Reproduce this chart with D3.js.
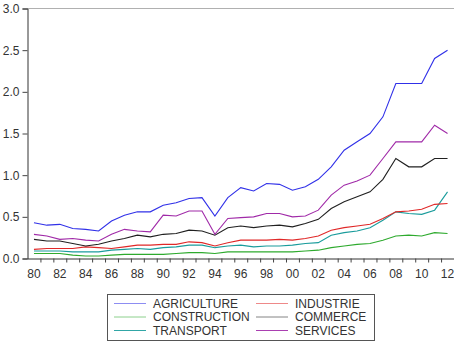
<!DOCTYPE html>
<html>
<head>
<meta charset="utf-8">
<script src="https://cdn.jsdelivr.net/npm/d3@7"></script>
<style>
  body { margin: 0; background: #fff; }
  svg { display: block; font-family: "Liberation Sans", Arial, sans-serif; }
</style>
</head>
<body>
<svg width="454" height="341"></svg>
<script>
// Years 1980..2012
const years = d3.range(1980, 2013);

const agriculture = [0.43, 0.40, 0.41, 0.36, 0.35, 0.33, 0.45, 0.52, 0.56, 0.56,
  0.64, 0.67, 0.72, 0.73, 0.51, 0.73, 0.85, 0.81, 0.90, 0.89,
  0.82, 0.86, 0.95, 1.10, 1.30, 1.40, 1.50, 1.70, 2.10, 2.10,
  2.10, 2.40, 2.50];
const industrie = [0.11, 0.12, 0.12, 0.12, 0.14, 0.13, 0.12, 0.14, 0.16, 0.16,
  0.17, 0.17, 0.20, 0.19, 0.15, 0.19, 0.22, 0.22, 0.22, 0.23,
  0.22, 0.24, 0.27, 0.34, 0.37, 0.39, 0.41, 0.48, 0.56, 0.57,
  0.59, 0.65, 0.66];
const construction = [0.06, 0.06, 0.06, 0.04, 0.03, 0.03, 0.04, 0.05, 0.05, 0.05,
  0.05, 0.06, 0.07, 0.07, 0.06, 0.08, 0.08, 0.08, 0.08, 0.08,
  0.08, 0.09, 0.10, 0.13, 0.15, 0.17, 0.18, 0.22, 0.27, 0.28,
  0.27, 0.31, 0.30];
const commerce = [0.23, 0.21, 0.21, 0.18, 0.15, 0.17, 0.21, 0.24, 0.28, 0.26,
  0.29, 0.30, 0.34, 0.33, 0.28, 0.37, 0.39, 0.37, 0.39, 0.40,
  0.38, 0.42, 0.47, 0.60, 0.68, 0.74, 0.80, 0.95, 1.20, 1.10,
  1.10, 1.20, 1.20];
const transport = [0.09, 0.09, 0.09, 0.08, 0.08, 0.08, 0.10, 0.11, 0.12, 0.11,
  0.13, 0.14, 0.16, 0.16, 0.13, 0.15, 0.16, 0.14, 0.15, 0.15,
  0.16, 0.18, 0.19, 0.28, 0.31, 0.33, 0.37, 0.46, 0.56, 0.54,
  0.53, 0.58, 0.80];
const services = [0.29, 0.27, 0.23, 0.24, 0.22, 0.21, 0.29, 0.35, 0.33, 0.32,
  0.52, 0.51, 0.57, 0.57, 0.29, 0.48, 0.49, 0.50, 0.54, 0.54,
  0.50, 0.51, 0.58, 0.76, 0.88, 0.93, 1.00, 1.20, 1.40, 1.40,
  1.40, 1.60, 1.50];

const yTicks = [0, 0.5, 1, 1.5, 2, 2.5, 3];

// legend order: two columns, read row by row
const series = [
  { name: 'AGRICULTURE', values: agriculture, color: '#3030e8' },
  { name: 'INDUSTRIE', values: industrie, color: '#e02828' },
  { name: 'CONSTRUCTION', values: construction, color: '#2eaa2e' },
  { name: 'COMMERCE', values: commerce, color: '#202020' },
  { name: 'TRANSPORT', values: transport, color: '#1a9c9c' },
  { name: 'SERVICES', values: services, color: '#a02aa8' }
];
// drawing order so the top lines sit above
const drawOrder = ['CONSTRUCTION', 'TRANSPORT', 'INDUSTRIE', 'COMMERCE', 'SERVICES', 'AGRICULTURE'];

const svg = d3.select('svg');
const mLeft = 27.5, mRight = 454, mTop = 8.5, mBottom = 258.5;

const x = d3.scaleLinear().domain([1979.5, 2012.5]).range([mLeft, mRight]);
const y = d3.scaleLinear().domain([0, 3]).range([mBottom, mTop]);

// top frame line
svg.append('line')
    .attr('x1', mLeft).attr('x2', mRight)
    .attr('y1', mTop).attr('y2', mTop)
    .attr('stroke', '#b0b0b0');

// left axis
const yAxis = svg.append('g')
    .attr('transform', `translate(${mLeft},0)`)
    .call(d3.axisLeft(y).tickValues(yTicks).tickFormat(d3.format('.1f')).tickSizeOuter(0).tickSize(5).tickPadding(3));
yAxis.selectAll('text').attr('font-size', 12).attr('fill', '#333');

// bottom axis: ticks between years, labels on even years
const xAxis = svg.append('g')
    .attr('transform', `translate(0,${mBottom})`)
    .call(d3.axisBottom(x).tickValues(d3.range(1980.5, 2012.5, 1)).tickFormat('').tickSize(4).tickSizeOuter(0));
svg.append('g')
    .selectAll('text')
    .data(years.filter(d => d % 2 === 0))
    .join('text')
    .attr('x', d => x(d))
    .attr('y', 278)
    .attr('text-anchor', 'middle')
    .attr('font-size', 12)
    .attr('fill', '#333')
    .text(d => String(d % 100).padStart(2, '0'));

[yAxis, xAxis].forEach(g => {
    g.selectAll('path, line').attr('stroke', '#444');
    g.select('.domain').attr('stroke', '#333');
});

const line = d3.line()
    .x((d, i) => x(years[i]))
    .y(d => y(d));

svg.append('g')
    .selectAll('path')
    .data(drawOrder.map(n => series.find(s => s.name === n)))
    .join('path')
    .attr('fill', 'none')
    .attr('stroke', d => d.color)
    .attr('stroke-width', 1.1)
    .attr('d', d => line(d.values));

// legend
const legend = svg.append('g');
legend.append('rect')
    .attr('x', 107.5).attr('y', 294.5)
    .attr('width', 267).attr('height', 46)
    .attr('fill', '#fff')
    .attr('stroke', '#555');

const item = legend.selectAll('g.item')
    .data(series)
    .join('g')
    .attr('class', 'item')
    .attr('transform', (d, i) => `translate(${i % 2 ? 256 : 114},${303.5 + Math.floor(i / 2) * 13.5})`);
// legend samples are a paler tint of each line colour
item.append('line')
    .attr('x1', 0).attr('x2', 32)
    .attr('y1', 0).attr('y2', 0)
    .attr('stroke', (d, i) => d3.interpolateRgb(d.color, '#fff')(i < 4 ? 0.45 : 0.1));
item.append('text')
    .attr('x', 39)
    .attr('dy', '0.36em')
    .attr('font-size', 12)
    .attr('fill', '#333')
    .text(d => d.name);
</script>
</body>
</html>
